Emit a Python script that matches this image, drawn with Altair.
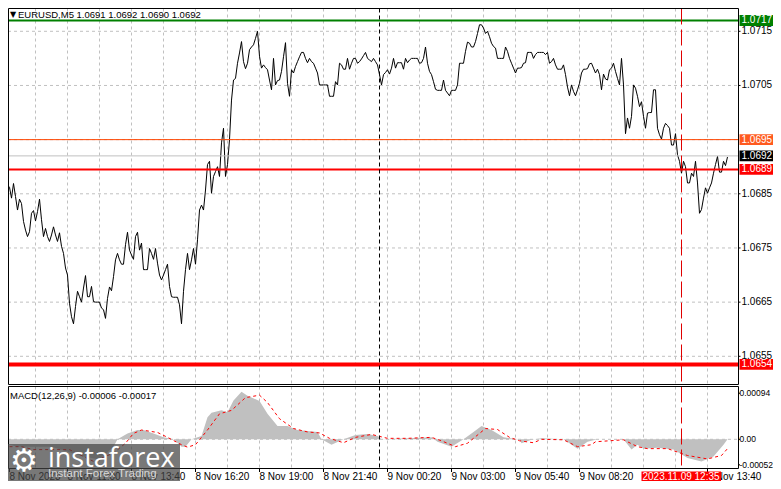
import altair as alt
import pandas as pd

# ---- price series (M5 closes, in points of 0.00001) ----
close_points = [
106880,106880,106866,106862,106842,106869,106845,106820,106840,106832,
106799,106783,106771,106780,106814,106819,106800,106817,106840,106802,
106771,106786,106771,106762,106774,106789,106774,106762,106778,106753,
106740,106713,106700,106648,106623,106610,106642,106670,106660,106650,
106676,106699,106660,106660,106679,106651,106650,106650,106650,106639,
106636,106620,106657,106678,106671,106697,106728,106740,106728,106720,
106720,106756,106779,106746,106737,106729,106771,106779,106746,106759,
106710,106710,106710,106749,106740,106729,106749,106722,106700,106691,
106700,106710,106720,106679,106660,106659,106659,106659,106645,106610,
106670,106710,106740,106710,106728,106749,106720,106765,106820,106829,
106820,106857,106904,106910,106851,106882,106891,106900,106882,106944,
106971,106882,106904,106950,107023,107060,107063,107091,107110,107131,
107094,107081,107091,107116,107121,107125,107137,107150,107104,107082,
107088,107083,107079,107060,107042,107100,107051,107059,107060,107076,
107103,107129,107054,107030,107079,107073,107085,107094,107103,107111,
107111,107100,107092,107100,107094,107091,107082,107073,107051,107051,
107051,107051,107051,107030,107030,107030,107057,107051,107091,107088,
107080,107080,107100,107080,107091,107100,107100,107091,107094,107099,
107105,107111,107100,107097,107094,107100,107094,107088,107070,107051,
107070,107074,107079,107071,107082,107100,107082,107092,107092,107092,
107080,107100,107092,107097,107100,107100,107100,107100,107091,107092,
107100,107121,107091,107076,107070,107057,107043,107041,107041,107041,
107060,107041,107036,107031,107041,107041,107041,107051,107091,107091,
107091,107113,107130,107128,107121,107121,107131,107146,107162,107162,
107156,107146,107150,107140,107128,107122,107119,107100,107100,107100,
107100,107121,107113,107100,107091,107082,107073,107082,107082,107083,
107091,107092,107111,107111,107111,107100,107107,107111,107111,107111,
107111,107107,107111,107091,107094,107100,107088,107080,107080,107080,
107088,107070,107047,107031,107051,107039,107031,107042,107054,107073,
107080,107080,107081,107090,107091,107082,107073,107080,107070,107042,
107071,107062,107060,107079,107082,107091,107076,107063,107051,107100,
107051,106961,106990,106971,106993,107051,107045,107030,107011,107020,
106993,106971,106999,107000,107000,107042,107042,106971,106959,106951,
106971,106980,106976,106971,106940,106940,106961,106922,106910,106888,
106910,106900,106870,106870,106888,106882,106910,106870,106814,106821,
106842,106861,106851,106861,106870,106888,106904,106919,106890,106890,
106910,106902,106918]

# ---- MACD histogram (bar, value in 0.00001) ----
hist_bars = [0,7,24,40,48,55,57,62,67,70,75,80,85,89,91,94,99,102,104,109,112,115,119,122,128,
             132,137,142,147,157,159,164,170,176,182,187,189,202,214,217,224,230,235,239,244,250,258,
             259,264,269,280,287,292,297,310,314,317,320,327,335,342,349,355,360,362]
hist_vals = [-8,-15,-15,-35,-41,-15,0,12,19,19,12,4,0,-15,-15,0,7,45,54,59,55,79,97,89,78,
             52,27,27,19,15,0,-11,0,9,11,7,0,2,4,-5,-15,0,15,27,19,4,0,
             -8,-1,2,0,-19,-5,0,0,-21,-11,-19,-17,-21,-38,-45,-35,-11,0]

# ---- MACD signal (bar, value in 0.00001) ----
sig_bars = [0,9,15,33,45,55,61,65,69,77,82,89,92,96,102,108,114,121,128,
            132,138,145,152,158,163,170,176,184,192,202,214,219,226,232,241,247,253,258,
            265,269,280,287,294,296,310,317,322,332,342,352,359,362]
sig_vals = [-15,-15,-21,-21,-45,-28,-8,12,19,14,4,-11,-16,-11,19,52,59,85,90,
            75,42,22,15,13,2,-7,4,10,2,2,4,-3,-15,-8,22,20,4,-3,
            -7,0,-1,-15,-11,-5,-1,-15,-19,-19,-33,-40,-33,-19]

# ---- levels and labels ----
level_prices = [1.0717, 1.0695, 1.0692, 1.06895, 1.06535]
level_labels = ["1.0717", "1.0695", "1.0692", "1.0689", "1.0654"]
level_colors = ["#008000", "#FF4500", "#C0C0C0", "#FF0000", "#FF0000"]
level_widths = [2, 1, 1, 2, 4]
tag_colors = ["#008000", "#FF5A1F", "#000000", "#FF0000", "#FF0000"]

price_grid = [1.0715, 1.0705, 1.0695, 1.0685, 1.0675, 1.0665, 1.0655]
price_ticks = [1.0715, 1.0705, 1.0685, 1.0675, 1.0665, 1.0655]
price_tick_labels = ["1.0715", "1.0705", "1.0685", "1.0675", "1.0665", "1.0655"]
macd_ticks = [0.00094, 0.0, -0.00052]
macd_tick_labels = ["0.00094", "0.00", "-0.00052"]
grid_bars = list(range(16, 368, 16))
time_ticks = [3, 32, 64, 96, 128, 160, 192, 224, 256, 288, 352]
time_labels = ["8 Nov 2023", "8 Nov 11:00", "8 Nov 13:40", "8 Nov 16:20", "8 Nov 19:00",
               "8 Nov 21:40", "9 Nov 00:20", "9 Nov 03:00", "9 Nov 05:40", "9 Nov 08:20",
               "9 Nov 13:40"]
black_cursor_bar = 188
red_cursor_bar = 339

FONT = "Liberation Sans"
GRID = "#C0C0C0"
W, H = 765, 473

x_scale = alt.Scale(domain=[2.25, 367.25], range=[0, 730], nice=False, zero=False)
y1_scale = alt.Scale(domain=[1.06497, 1.07193], range=[377, 0], nice=False, zero=False)
y2_scale = alt.Scale(domain=[-0.000585, 0.001087], range=[460, 378], nice=False, zero=False)

X = alt.X("b:Q", scale=x_scale, axis=None)


def Y1(field):
    return alt.Y(field, scale=y1_scale, axis=None)


def Y2(field):
    return alt.Y(field, scale=y2_scale, axis=None)


def label(text, x, y, size=10.0, color="#000000", align="left", font=FONT):
    return alt.Chart(pd.DataFrame({"t": [text]})).mark_text(
        align=align, baseline="middle", font=font, fontSize=size, color=color
    ).encode(x=alt.value(x), y=alt.value(y), text="t:N")


def frame(x, x2, y, y2):
    return alt.Chart(pd.DataFrame({"t": ["frame"]})).mark_rule(
        color="#000000", strokeWidth=1
    ).encode(x=alt.value(x), x2=alt.value(x2), y=alt.value(y), y2=alt.value(y2))


def vrules(bars, color, dash, y, y2):
    return alt.Chart(pd.DataFrame({"b": bars})).mark_rule(
        color=color, strokeDash=dash, strokeWidth=1
    ).encode(x=X, y=alt.value(y), y2=alt.value(y2))


# ---- main price panel ----
hgrid = alt.Chart(pd.DataFrame({"p": price_grid})).mark_rule(
    color=GRID, strokeDash=[3, 3], strokeWidth=1
).encode(x=alt.value(0), x2=alt.value(730), y=Y1("p:Q"))

price_tick_marks = alt.Chart(pd.DataFrame({"p": price_ticks})).mark_rule(
    color="#000000", strokeWidth=1
).encode(x=alt.value(730.5), x2=alt.value(732.5), y=Y1("p:Q"))

price_text = alt.Chart(pd.DataFrame({"p": price_ticks, "l": price_tick_labels})).mark_text(
    align="left", baseline="middle", font=FONT, fontSize=10, color="#000000"
).encode(x=alt.value(733.5), y=Y1("p:Q"), text="l:N")

price = alt.Chart(pd.DataFrame({
    "b": list(range(len(close_points))),
    "p": [v / 100000 for v in close_points],
})).mark_line(color="#000000", strokeWidth=1, clip=True).encode(
    x=X, y=Y1("p:Q"), order="b:Q")

levels_df = pd.DataFrame({
    "p": level_prices, "c": level_colors, "w": level_widths, "l": level_labels, "t": tag_colors,
    "lo": [v - 0.0001 for v in level_prices], "hi": [v + 0.0001 for v in level_prices],
})
level_rules = alt.Chart(levels_df).mark_rule().encode(
    x=alt.value(0), x2=alt.value(730), y=Y1("p:Q"),
    color=alt.Color("c:N", scale=None),
    strokeWidth=alt.StrokeWidth("w:Q", scale=None),
)
tags = alt.Chart(levels_df).mark_rect().encode(
    x=alt.value(731.5), x2=alt.value(765),
    y=Y1("lo:Q"), y2="hi:Q",
    color=alt.Color("t:N", scale=None),
)
tag_text = alt.Chart(levels_df).mark_text(
    align="left", baseline="middle", font=FONT, fontSize=10, color="#FFFFFF"
).encode(x=alt.value(733.5), y=Y1("p:Q"), text="l:N")

# ---- MACD panel ----
zero_rule = alt.Chart(pd.DataFrame({"m": [0.0]})).mark_rule(
    color=GRID, strokeDash=[3, 3], strokeWidth=1
).encode(x=alt.value(0), x2=alt.value(730), y=Y2("m:Q"))

hist = alt.Chart(pd.DataFrame({
    "b": hist_bars, "m": [v / 100000 for v in hist_vals], "z": [0.0] * len(hist_bars),
})).mark_area(color="#C0C0C0", clip=True, interpolate="linear").encode(
    x=X, y=Y2("m:Q"), y2="z:Q")

signal = alt.Chart(pd.DataFrame({
    "b": sig_bars, "m": [v / 100000 for v in sig_vals],
})).mark_line(color="#FF0000", strokeWidth=1, strokeDash=[3, 3], clip=True).encode(
    x=X, y=Y2("m:Q"), order="b:Q")

macd_tick_marks = alt.Chart(pd.DataFrame({"m": macd_ticks})).mark_rule(
    color="#000000", strokeWidth=1
).encode(x=alt.value(730.5), x2=alt.value(732), y=Y2("m:Q"))

macd_text = alt.Chart(pd.DataFrame({"m": macd_ticks, "l": macd_tick_labels})).mark_text(
    align="left", baseline="middle", font=FONT, fontSize=8.5, color="#000000"
).encode(x=alt.value(731.5), y=Y2("m:Q"), text="l:N")

time_tick_marks = alt.Chart(pd.DataFrame({"b": time_ticks})).mark_rule(
    color="#000000", strokeWidth=1
).encode(x=X, y=alt.value(461), y2=alt.value(464))

time_text = alt.Chart(pd.DataFrame({"b": time_ticks, "l": time_labels})).mark_text(
    align="left", baseline="middle", font=FONT, fontSize=10, color="#000000"
).encode(x=X, y=alt.value(469), text="l:N")

logo_box = alt.Chart(pd.DataFrame({"t": ["logo"]})).mark_rect(
    color="#444444", opacity=0.72
).encode(x=alt.value(0), x2=alt.value(172), y=alt.value(436), y2=alt.value(473))

date_box = alt.Chart(pd.DataFrame({"t": ["cursor"]})).mark_rect(color="#FF0000").encode(
    x=alt.value(633.5), x2=alt.value(713), y=alt.value(463.5), y2=alt.value(473))

chart = alt.layer(
    # grids and panel frames
    hgrid, zero_rule,
    vrules(grid_bars, GRID, [3, 3], 0.5, 376.5),
    vrules(grid_bars, GRID, [3, 3], 378.5, 460.5),
    # MACD
    hist, signal,
    # price
    price, level_rules,
    vrules([black_cursor_bar], "#000000", [4, 3], 0.5, 376.5),
    vrules([black_cursor_bar], "#000000", [4, 3], 378.5, 460.5),
    vrules([red_cursor_bar], "#E00000", [16, 5], 0.5, 376.5),
    vrules([red_cursor_bar], "#E00000", [16, 5], 378.5, 460.5),
    # frames
    frame(0.5, 730.5, 0.5, 0.5), frame(0.5, 730.5, 376.5, 376.5),
    frame(0.5, 730.5, 378.5, 378.5), frame(0.5, 730.5, 460.5, 460.5),
    frame(0.5, 0.5, 0.5, 376.5), frame(730.5, 730.5, 0.5, 376.5),
    frame(0.5, 0.5, 378.5, 460.5), frame(730.5, 730.5, 378.5, 460.5),
    # scale texts
    price_tick_marks, price_text, tags, tag_text,
    macd_tick_marks, macd_text, time_tick_marks, time_text,
    # captions
    label("▼", 2, 7, size=8, font="DejaVu Sans"),
    label("EURUSD,M5  1.0691 1.0692 1.0690 1.0692", 10, 7, size=9.5),
    label("MACD(12,26,9) -0.00006 -0.00017", 2, 387.5, size=9.5),
    # watermark
    logo_box,
    label("⚙", 2, 454, size=31, color="#FFFFFF", font="DejaVu Sans"),
    label("instaforex", 40, 451, size=27, color="#FFFFFF", font="Open Sans"),
    label("Instant Forex Trading", 40, 466, size=11.5, color="#D8D8D8"),
    # cursor date
    date_box,
    label("2023.11.09 12:35", 673, 468.5, size=10, color="#FFFFFF", align="center"),
).resolve_scale(y="independent").properties(
    width=W, height=H, padding=0, background="#FFFFFF",
    autosize=alt.AutoSizeParams(type="none"),
).configure_view(stroke=None)

chart.save("out.html", embed_options={"renderer": "svg", "actions": False})
